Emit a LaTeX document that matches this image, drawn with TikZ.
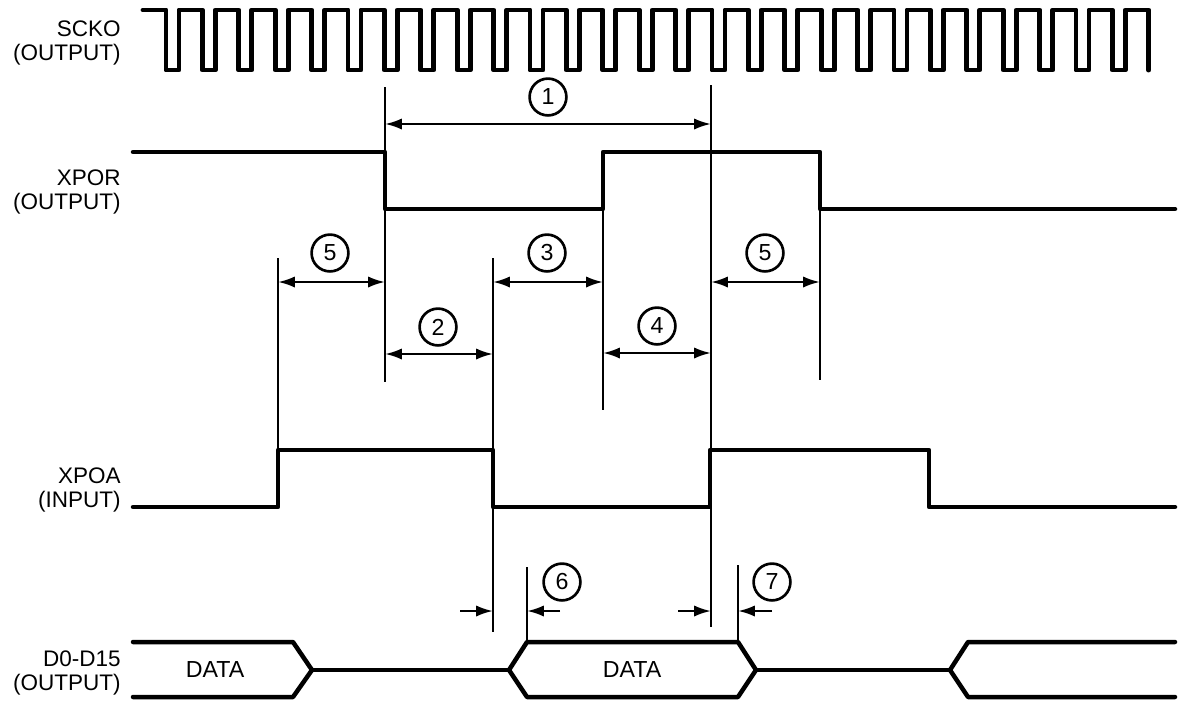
\documentclass[tikz,border=0pt]{standalone}
\usepackage{fontspec}
\setmainfont{Liberation Sans}
\usetikzlibrary{arrows.meta, positioning, calc}

\tikzset{
  wave/.style={line width=3.2pt, line cap=round, line join=round},
  clk/.style={line width=3.5pt, line cap=round, line join=round},
  guide/.style={line width=1.7pt},
  dim/.style={line width=1.7pt, {Latex[length=12pt,width=8pt]}-{Latex[length=12pt,width=8pt]}},
  dimin/.style={line width=1.7pt, -{Latex[length=12pt,width=8pt]}},
  num/.style={draw, circle, line width=1.9pt, minimum size=0.92cm, inner sep=0pt, font=\fontsize{16.5}{16.5}\selectfont},
  sig/.style={anchor=east, align=right, inner sep=0pt, font=\fontsize{16}{16.5}\selectfont},
  busname/.style={inner sep=0pt, font=\fontsize{16.5}{16.5}\selectfont}
}

\begin{document}
\begin{tikzpicture}[x=0.025cm, y=-0.025cm]
  \useasboundingbox (0,0) rectangle (1179,700);

  % signal names
  \node[sig] (scko) at (121,43) {SCKO\\(OUTPUT)};
  \node[sig] (xpor) at (121,192) {XPOR\\(OUTPUT)};
  \node[sig] (xpoa) at (121,490) {XPOA\\(INPUT)};
  \node[sig] (dbus) at (121,673) {D0-D15\\(OUTPUT)};

  % clock
  \draw[clk] (143,10) -- (166,10)
    \foreach \k in {0,...,26} { -- ++(0,60) -- ++(13,0) -- ++(0,-60) -- ++(23.4,0) }
    -- ++(0,60);

  % XPOR
  \draw[wave] (133,152) -- (385,152) -- (385,209) -- (603,209) -- (603,152)
    -- (820,152) -- (820,209) -- (1175,209);

  % XPOA
  \draw[wave] (133,507) -- (278,507) -- (278,450) -- (493,450) -- (493,507)
    -- (710,507) -- (710,450) -- (929,450) -- (929,507) -- (1175,507);

  % D0-D15
  \draw[wave] (133,642) -- (293,642) -- (312,670) -- (293,697) -- (133,697);
  \draw[wave] (312,670) -- (509,670);
  \draw[wave] (509,670) -- (527,642) -- (738,642) -- (756,670) -- (738,697)
    -- (527,697) -- cycle;
  \draw[wave] (756,670) -- (950,670);
  \draw[wave] (1175,642) -- (968,642) -- (950,670) -- (968,697) -- (1175,697);
  \node[busname] (d1) at (215,670) {DATA};
  \node[busname] (d2) at (632,670) {DATA};

  % guide lines
  \coordinate (g1t) at (385,87);  \coordinate (g1b) at (385,382);
  \coordinate (g2t) at (711,85);  \coordinate (g2b) at (711,627);
  \coordinate (g3t) at (278,258); \coordinate (g3b) at (278,507);
  \coordinate (g4t) at (493,258); \coordinate (g4b) at (493,632);
  \coordinate (g5t) at (603,152); \coordinate (g5b) at (603,410);
  \coordinate (g6t) at (820,152); \coordinate (g6b) at (820,380);
  \coordinate (g7t) at (527,567); \coordinate (g7b) at (527,642);
  \coordinate (g8t) at (738,565); \coordinate (g8b) at (738,642);
  \foreach \g in {1,...,8} \draw[guide] (g\g t) -- (g\g b);

  % timing arrows
  \draw[dim] (g1t |- 0,124) -- (g2t |- 0,124);
  \draw[dim] (g3t |- 0,282) -- (g1t |- 0,282);
  \draw[dim] (g4t |- 0,282) -- (g5t |- 0,282);
  \draw[dim] (g2t |- 0,282) -- (g6t |- 0,282);
  \draw[dim] (g1t |- 0,354) -- (g4t |- 0,354);
  \draw[dim] (g5t |- 0,353) -- (g2t |- 0,353);
  \coordinate (a6l) at (460,611); \coordinate (a6r) at (560,611);
  \coordinate (a7l) at (678,611); \coordinate (a7r) at (772,611);
  \draw[dimin] (a6l) -- (g4t |- a6l);
  \draw[dimin] (a6r) -- (g7t |- a6r);
  \draw[dimin] (a7l) -- (g2t |- a7l);
  \draw[dimin] (a7r) -- (g8t |- a7r);

  % numbers
  \node[num] (n1) at (548,97) {1};
  \node[num] (n2) at (438,327) {2};
  \node[num] (n3) at (547,253) {3};
  \node[num] (n4) at (657,326) {4};
  \node[num] (n5a) at (330,253) {5};
  \node[num] (n5b) at (765,253) {5};
  \node[num] (n6) at (562,582) {6};
  \node[num] (n7) at (772,582) {7};
\end{tikzpicture}
\end{document}
